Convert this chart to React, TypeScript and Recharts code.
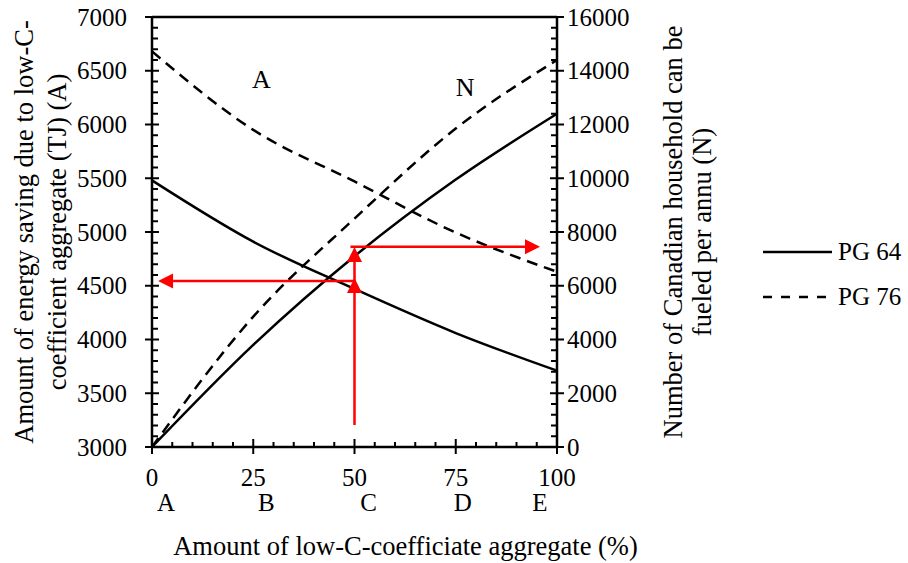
import React from "react";
import {
  LineChart,
  Line,
  XAxis,
  YAxis,
  ReferenceLine,
  ReferenceDot,
} from "recharts";

// x = share of low-C aggregate (%), mixes A..E
const pct = [0, 25, 50, 75, 100];
const mixLabels = ["A", "B", "C", "D", "E"];

// energy saving (TJ), left axis
const pg64Energy = [5480, 4910, 4470, 4060, 3710];
const pg76Energy = [6680, 5950, 5470, 4995, 4630];

// households fueled per annum, right axis
const pg64Homes = [0, 3800, 7100, 9950, 12400];
const pg76Homes = [0, 4850, 8500, 11850, 14400];

const xMajor = [0, 25, 50, 75, 100];
const leftMajor = [3000, 3500, 4000, 4500, 5000, 5500, 6000, 6500, 7000];
const rightMajor = [0, 2000, 4000, 6000, 8000, 10000, 12000, 14000, 16000];

// red reading arrows at mix C
const readEnergy = 4545;
const readHomes = 7450;

const FONT = '"Liberation Serif", "Times New Roman", serif';
const FS = 25;
const TITLE_FS = 26.5;
const RED = "#ff0000";

function subdivide(majors: number[], parts: number) {
  const out: number[] = [];
  for (let i = 0; i < majors.length - 1; i++) {
    const step = (majors[i + 1] - majors[i]) / parts;
    for (let k = 0; k < parts; k++) out.push(majors[i] + k * step);
  }
  out.push(majors[majors.length - 1]);
  return out;
}

const data = pct.map((p, i) => ({
  pct: p,
  pg64Energy: pg64Energy[i],
  pg76Energy: pg76Energy[i],
  pg64Homes: pg64Homes[i],
  pg76Homes: pg76Homes[i],
}));

const letterShift = [14, 13, 14, 7, -17];

function XTick(props: any) {
  const { x, y, payload } = props;
  const i = xMajor.indexOf(payload.value);
  if (i < 0) {
    return <line x1={x} x2={x} y1={y} y2={y - 5} stroke="#000" strokeWidth={2} />;
  }
  return (
    <g>
      <line x1={x} x2={x} y1={y - 8} y2={y + 7} stroke="#000" strokeWidth={2} />
      <text x={x} y={y + 39} textAnchor="middle" fontFamily={FONT} fontSize={FS} fill="#000">
        {payload.value}
      </text>
      <text x={x + letterShift[i]} y={y + 64} textAnchor="middle" fontFamily={FONT} fontSize={FS} fill="#000">
        {mixLabels[i]}
      </text>
    </g>
  );
}

function LeftTick(props: any) {
  const { x, y, payload } = props;
  if (!leftMajor.includes(payload.value)) {
    return <line x1={x} x2={x + 6} y1={y} y2={y} stroke="#000" strokeWidth={2} />;
  }
  return (
    <g>
      <line x1={x - 7} x2={x + 7} y1={y} y2={y} stroke="#000" strokeWidth={2} />
      <text x={x - 25} y={y} textAnchor="end" dominantBaseline="central" fontFamily={FONT} fontSize={FS} fill="#000">
        {payload.value}
      </text>
    </g>
  );
}

function RightTick(props: any) {
  const { x, y, payload } = props;
  if (!rightMajor.includes(payload.value)) {
    return <line x1={x} x2={x - 6} y1={y} y2={y} stroke="#000" strokeWidth={2} />;
  }
  return (
    <g>
      <line x1={x - 7} x2={x + 7} y1={y} y2={y} stroke="#000" strokeWidth={2} />
      <text x={x + 10} y={y} textAnchor="start" dominantBaseline="central" fontFamily={FONT} fontSize={FS} fill="#000">
        {payload.value}
      </text>
    </g>
  );
}

function arrowShape(props: any) {
  const { x1, y1, x2, y2 } = props;
  const len = Math.hypot(x2 - x1, y2 - y1) || 1;
  const ux = (x2 - x1) / len;
  const uy = (y2 - y1) / len;
  const bx = x2 - ux * 15;
  const by = y2 - uy * 15;
  const pts = `${x2},${y2} ${bx - uy * 7.5},${by + ux * 7.5} ${bx + uy * 7.5},${by - ux * 7.5}`;
  return (
    <g>
      <line x1={x1} y1={y1} x2={bx} y2={by} stroke={RED} strokeWidth={2.5} />
      <polygon points={pts} fill={RED} />
    </g>
  );
}

const textMark = (s: string) => (p: any) => (
  <text x={p.cx} y={p.cy} textAnchor="middle" dominantBaseline="central" fontFamily={FONT} fontSize={26} fill="#000">
    {s}
  </text>
);

export default function App() {
  return (
    <div style={{ position: "absolute", left: 0, top: 0, width: 908, height: 563, background: "#fff" }}>
      <LineChart
        width={908}
        height={563}
        data={data}
        margin={{ top: 17, right: 181, bottom: 0, left: 5 }}
      >
        <XAxis
          dataKey="pct"
          type="number"
          domain={[0, 100]}
          ticks={subdivide(xMajor, 5)}
          interval={0}
          tickSize={0}
          tickMargin={0}
          tickLine={false}
          tick={XTick}
          height={116}
          axisLine={{ stroke: "#000", strokeWidth: 2.5 }}
          label={({ viewBox }: any) => (
            <text
              x={viewBox.x + viewBox.width / 2 + 51}
              y={555}
              textAnchor="middle"
              fontFamily={FONT}
              fontSize={TITLE_FS}
              fill="#000"
            >
              Amount of low-C-coefficiate aggregate (%)
            </text>
          )}
        />
        <YAxis
          yAxisId="left"
          domain={[3000, 7000]}
          ticks={subdivide(leftMajor, 5)}
          interval={0}
          width={147}
          tickSize={0}
          tickMargin={0}
          tickLine={false}
          tick={LeftTick}
          axisLine={{ stroke: "#000", strokeWidth: 2.5 }}
          label={({ viewBox }: any) => {
            const cy = viewBox.y + viewBox.height / 2;
            return (
              <g fontFamily={FONT} fontSize={TITLE_FS} fill="#000">
                <text x={24} y={cy} transform={`rotate(-90 24 ${cy})`} textAnchor="middle" dominantBaseline="central">
                  Amount of energy saving due to low-C-
                </text>
                <text x={57} y={cy} transform={`rotate(-90 57 ${cy})`} textAnchor="middle" dominantBaseline="central">
                  coefficient aggregate (TJ) (A)
                </text>
              </g>
            );
          }}
        />
        <YAxis
          yAxisId="right"
          orientation="right"
          domain={[0, 16000]}
          ticks={subdivide(rightMajor, 5)}
          interval={0}
          width={170}
          tickSize={0}
          tickMargin={0}
          tickLine={false}
          tick={RightTick}
          axisLine={{ stroke: "#000", strokeWidth: 2.5 }}
          label={({ viewBox }: any) => {
            const cy = viewBox.y + viewBox.height / 2;
            const x1 = viewBox.x + 116;
            const x2 = viewBox.x + 145;
            return (
              <g fontFamily={FONT} fontSize={TITLE_FS} fill="#000">
                <text x={x1} y={cy} transform={`rotate(-90 ${x1} ${cy})`} textAnchor="middle" dominantBaseline="central">
                  Number of Canadian household can be
                </text>
                <text x={x2} y={cy} transform={`rotate(-90 ${x2} ${cy})`} textAnchor="middle" dominantBaseline="central">
                  fueled per annu (N)
                </text>
              </g>
            );
          }}
        />
        <ReferenceLine yAxisId="left" y={7000} stroke="#000" strokeWidth={2.5} />

        <Line yAxisId="left" dataKey="pg64Energy" type="monotone" stroke="#000" strokeWidth={2.5} dot={false} isAnimationActive={false} />
        <Line yAxisId="left" dataKey="pg76Energy" type="monotone" stroke="#000" strokeWidth={2.5} strokeDasharray="11 7" dot={false} isAnimationActive={false} />
        <Line yAxisId="right" dataKey="pg64Homes" type="monotone" stroke="#000" strokeWidth={2.5} dot={false} isAnimationActive={false} />
        <Line yAxisId="right" dataKey="pg76Homes" type="monotone" stroke="#000" strokeWidth={2.5} strokeDasharray="11 7" dot={false} isAnimationActive={false} />

        <ReferenceLine
          yAxisId="left"
          segment={[{ x: 50, y: 3205 }, { x: 50, y: 4572 }]}
          shape={arrowShape}
        />
        <ReferenceLine
          yAxisId="left"
          segment={[{ x: 50, y: readEnergy }, { x: 1.5, y: readEnergy }]}
          shape={arrowShape}
        />
        <ReferenceLine
          yAxisId="right"
          segment={[{ x: 50, y: 6100 }, { x: 50, y: 7440 }]}
          shape={arrowShape}
        />
        <ReferenceLine
          yAxisId="right"
          segment={[{ x: 49, y: readHomes }, { x: 95.8, y: readHomes }]}
          shape={arrowShape}
        />

        <ReferenceDot yAxisId="left" x={27} y={6414} r={0} shape={textMark("A")} />
        <ReferenceDot yAxisId="left" x={77.3} y={6340} r={0} shape={textMark("N")} />
      </LineChart>

      <div style={{ position: "absolute", left: 763, top: 234, fontFamily: FONT, fontSize: FS, color: "#000" }}>
        <div style={{ display: "flex", alignItems: "center", height: 36 }}>
          <svg width={75} height={10}>
            <line x1={0} x2={69} y1={5} y2={5} stroke="#000" strokeWidth={2.5} />
          </svg>
          <span>PG 64</span>
        </div>
        <div style={{ display: "flex", alignItems: "center", height: 36, marginTop: 9 }}>
          <svg width={75} height={10}>
            <line x1={0} x2={64} y1={5} y2={5} stroke="#000" strokeWidth={2.5} strokeDasharray="9 9" />
          </svg>
          <span>PG 76</span>
        </div>
      </div>
    </div>
  );
}
